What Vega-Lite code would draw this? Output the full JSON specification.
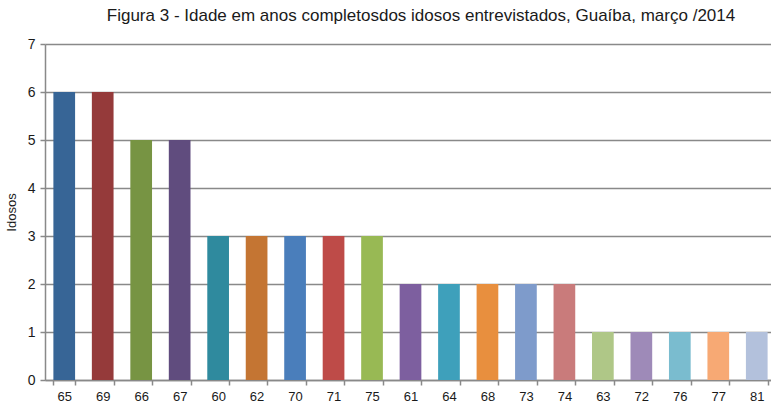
{
  "$schema": "https://vega.github.io/schema/vega-lite/v6.json",
  "width": 726,
  "height": 336,
  "autosize": {"type": "none"},
  "padding": {"left": 45, "top": 44, "right": 0, "bottom": 25},
  "background": "white",
  "title": {
    "text": "Figura 3 - Idade em anos completosdos idosos entrevistados, Guaíba, março /2014",
    "font": "Liberation Sans",
    "fontSize": 17,
    "fontWeight": "normal",
    "color": "#1a1a1a",
    "anchor": "middle",
    "dx": 13,
    "offset": 12
  },
  "config": {
    "view": {"stroke": null},
    "axis": {"labelFont": "Liberation Sans", "titleFont": "Liberation Sans"}
  },
  "data": {
    "values": [
      {"idade": "65", "idosos": 6},
      {"idade": "69", "idosos": 6},
      {"idade": "66", "idosos": 5},
      {"idade": "67", "idosos": 5},
      {"idade": "60", "idosos": 3},
      {"idade": "62", "idosos": 3},
      {"idade": "70", "idosos": 3},
      {"idade": "71", "idosos": 3},
      {"idade": "75", "idosos": 3},
      {"idade": "61", "idosos": 2},
      {"idade": "64", "idosos": 2},
      {"idade": "68", "idosos": 2},
      {"idade": "73", "idosos": 2},
      {"idade": "74", "idosos": 2},
      {"idade": "63", "idosos": 1},
      {"idade": "72", "idosos": 1},
      {"idade": "76", "idosos": 1},
      {"idade": "77", "idosos": 1},
      {"idade": "81", "idosos": 1}
    ]
  },
  "mark": {"type": "bar"},
  "encoding": {
    "x": {
      "field": "idade",
      "type": "nominal",
      "sort": null,
      "scale": {"range": [0, 731], "paddingInner": 0.436, "paddingOuter": 0.218},
      "axis": {
        "title": null,
        "labelAngle": 0,
        "labelFontSize": 13,
        "labelColor": "#1a1a1a",
        "labelPadding": 5,
        "tickBand": "extent",
        "tickSize": 5,
        "tickColor": "#898989",
        "tickWidth": 1.5,
        "domainColor": "#898989",
        "domainWidth": 1.5,
        "grid": false
      }
    },
    "y": {
      "field": "idosos",
      "type": "quantitative",
      "scale": {"domain": [0, 7], "nice": false},
      "axis": {
        "title": "Idosos",
        "titleFontSize": 13,
        "titleFontWeight": "normal",
        "titleColor": "#1a1a1a",
        "titlePadding": 9,
        "values": [0, 1, 2, 3, 4, 5, 6, 7],
        "labelFontSize": 14,
        "labelColor": "#1a1a1a",
        "labelPadding": 5,
        "tickSize": 5,
        "tickColor": "#898989",
        "tickWidth": 1.5,
        "domainColor": "#898989",
        "domainWidth": 1.5,
        "grid": true,
        "gridColor": "#898989",
        "gridWidth": 1.5
      }
    },
    "color": {
      "field": "idade",
      "type": "nominal",
      "legend": null,
      "scale": {
        "domain": ["65","69","66","67","60","62","70","71","75","61","64","68","73","74","63","72","76","77","81"],
        "range": ["#376596","#953A3A","#779443","#604C7E","#2F8A9E","#C47533","#4A7EBB","#BE4B48","#98B954","#7D5F9F","#3EA0BB","#E88F3E","#7E9BCB","#C97B7B","#AFC787","#9E8AB8","#7ABCCF","#F7A974","#B3C1DC"]
      }
    }
  }
}
